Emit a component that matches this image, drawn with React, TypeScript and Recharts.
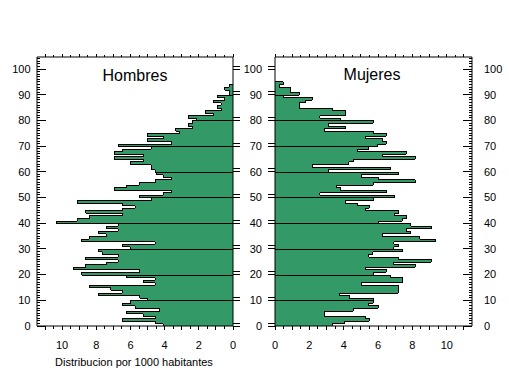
import React from 'react';
import { BarChart, Bar, XAxis, YAxis } from 'recharts';

// Distribution per 1000 inhabitants, by age (index = age in years)
const hombres = [
  4.08, 4.55, 6.47, 4.55, 5.25, 6.24, 4.30, 5.71, 6.47, 5.99,
  5.00, 5.46, 7.87, 6.47, 7.15, 8.40, 4.55, 5.25, 4.55, 6.24,
  8.86, 5.46, 9.33, 8.63, 7.42, 6.71, 8.63, 6.71, 7.64, 7.87,
  6.00, 6.47, 4.55, 8.86, 8.40, 7.41, 7.87, 6.71, 7.41, 6.71,
  10.34, 9.10, 8.40, 6.47, 8.63, 6.47, 5.71, 6.47, 9.10, 4.78,
  5.48, 4.08, 3.58, 6.94, 6.24, 5.48, 4.55, 3.58, 4.08, 4.45,
  4.55, 4.78, 4.78, 6.00, 5.25, 6.94, 5.25, 6.94, 6.47, 4.78,
  6.71, 3.58, 5.01, 4.08, 5.01, 3.11, 3.34, 2.37, 2.62, 2.37,
  2.14, 2.62, 1.17, 1.63, 0.70, 0.93, 0.70, 1.17, 0.47, 0.93,
  0.23, 0.23, 0.47, 0.23,
];

const mujeres = [
  3.32, 4.06, 5.50, 5.25, 2.86, 2.86, 4.57, 6.00, 5.46, 5.73,
  5.73, 4.33, 3.77, 7.17, 7.17, 7.17, 5.01, 7.41, 7.41, 6.72,
  5.71, 6.47, 5.25, 8.16, 6.92, 9.10, 7.17, 5.46, 5.70, 7.41,
  6.92, 7.19, 6.92, 9.37, 8.42, 6.24, 7.89, 7.64, 9.12, 7.89,
  6.00, 7.40, 7.66, 6.95, 7.20, 5.26, 5.50, 4.79, 4.09, 5.73,
  6.95, 2.62, 6.47, 3.80, 3.59, 5.73, 8.16, 6.00, 5.01, 7.19,
  3.09, 6.72, 2.16, 4.30, 4.57, 8.16, 6.24, 7.64, 4.78, 5.46,
  5.99, 6.47, 6.24, 5.26, 6.47, 5.73, 2.88, 4.09, 3.09, 5.73,
  3.79, 2.62, 4.09, 4.09, 3.32, 1.42, 1.42, 1.75, 2.17, 0.49,
  1.42, 0.93, 0.93, 0.25, 0.49,
];

const valueLabels = [0, 2, 4, 6, 8, 10];
const ageLabels = [0, 10, 20, 30, 40, 50, 60, 70, 80, 90, 100];

const Y_MAX = 104.7;
const X_MAX = 11.47;
const yearTicks = Array.from({ length: 105 }, (_, i) => i);
const halfTicks = Array.from({ length: 23 }, (_, i) => i * 0.5);

const FONT = '"Liberation Sans", Arial, Helvetica, sans-serif';
const GREEN = '#339966';

const maleData = hombres.map((v, i) => ({ age: i, mid: i + 0.5, value: v }));
const femaleData = mujeres.map((v, i) => ({ age: i, mid: i + 0.5, value: v }));

function makeShape(values: number[], side: 'left' | 'right') {
  return (props: any) => {
    const { x, y, width, height } = props;
    const i: number =
      props.payload && typeof props.payload.age === 'number' ? props.payload.age : props.index;
    const v = values[i];
    if (!v || !isFinite(x) || !isFinite(width) || !isFinite(y) || !isFinite(height)) return <g />;
    const xa = Math.min(x, x + width);
    const xb = Math.max(x, x + width);
    const top = Math.min(y, y + height);
    const bottom = Math.max(y, y + height);
    const base = side === 'left' ? xb : xa;
    const outer = side === 'left' ? xa : xb;
    const pxPerUnit = (xb - xa) / v;
    const dir = side === 'left' ? -1 : 1;
    const outerAt = (j: number) =>
      j >= 0 && j < values.length ? base + dir * values[j] * pxPerUnit : base;
    const prev = outerAt(i - 1);
    const isLast = i === values.length - 1;
    return (
      <g shapeRendering="crispEdges">
        <rect x={xa} y={top} width={xb - xa} height={bottom - top} fill={GREEN} />
        <line x1={outer} x2={outer} y1={top} y2={bottom} stroke="#000" />
        {i > 0 && <line x1={prev} x2={outer} y1={bottom} y2={bottom} stroke="#000" />}
        {i % 10 === 0 && i > 0 && (
          <line x1={base} x2={outer} y1={bottom} y2={bottom} stroke="#000" />
        )}
        {isLast && <line x1={outer} x2={base} y1={top} y2={top} stroke="#000" />}
      </g>
    );
  };
}

const txt = { fontSize: 11, fontFamily: FONT, fill: '#000' } as const;

// inner comb ticks on the outer vertical axes
const InnerYTick = (side: 'left' | 'right', showLabels: boolean) => (p: any) => {
  const { x, y, payload } = p;
  const v = payload.value;
  const major = v % 10 === 0;
  const len = major ? 9 : 3;
  const d = side === 'left' ? 1 : -1;
  return (
    <g>
      <line x1={x} x2={x + d * len} y1={y} y2={y} stroke="#000" shapeRendering="crispEdges" />
      {showLabels && major && (
        <text
          x={side === 'left' ? x - 6.5 : x + 12}
          y={y}
          dy="0.35em"
          textAnchor={side === 'left' ? 'end' : 'start'}
          {...txt}
        >
          {v}
        </text>
      )}
    </g>
  );
};

// "=" ticks on the central vertical axes
const MidYTick = (side: 'left' | 'right', showLabels: boolean) => (p: any) => {
  const { x, y, payload } = p;
  const v = payload.value;
  const d = side === 'left' ? -1 : 1;
  return (
    <g>
      <g shapeRendering="crispEdges">
        <line x1={x} x2={x + d * 7} y1={y} y2={y} stroke="#000" />
        <line x1={x} x2={x + d * 7} y1={y - 3} y2={y - 3} stroke="#000" />
      </g>
      {showLabels && (
        <text x={x - 13} y={y} dy="0.35em" textAnchor="end" {...txt}>
          {v}
        </text>
      )}
    </g>
  );
};

const BottomTick = (p: any) => {
  const { x, y, payload } = p;
  const v = payload.value;
  const isInt = Math.abs(v - Math.round(v)) < 1e-6;
  return (
    <g>
      <line x1={x} x2={x} y1={y} y2={y + (isInt ? 4 : 3)} stroke="#000" shapeRendering="crispEdges" />
      {valueLabels.includes(v) && (
        <text x={x} y={y + 22.5} textAnchor="middle" {...txt}>
          {v}
        </text>
      )}
    </g>
  );
};

const TopTick = (p: any) => {
  const { x, y, payload } = p;
  const v = payload.value;
  const isInt = Math.abs(v - Math.round(v)) < 1e-6;
  return (
    <line x1={x} x2={x} y1={y} y2={y - (isInt ? 3 : 2)} stroke="#000" shapeRendering="crispEdges" />
  );
};

const axisLine = { stroke: '#000', strokeWidth: 1 };

function Panel(props: {
  data: any[];
  values: number[];
  side: 'left' | 'right';
  mLeft: number;
  mRight: number;
  leftW: number;
  rightW: number;
}) {
  const { data, values, side, mLeft, mRight, leftW, rightW } = props;
  const isLeft = side === 'left';
  return (
    <BarChart
      width={509}
      height={376}
      data={data}
      layout="vertical"
      margin={{ top: 47, right: mRight, bottom: 0, left: mLeft }}
      barCategoryGap={0}
      barGap={0}
      style={{ overflow: 'visible' }}
    >
      <XAxis
        xAxisId="b"
        type="number"
        orientation="bottom"
        domain={[0, X_MAX]}
        allowDataOverflow
        reversed={isLeft}
        ticks={halfTicks}
        interval={0}
        height={50}
        tickSize={0}
        tickMargin={0}
        tickLine={false}
        axisLine={axisLine}
        tick={BottomTick}
      />
      <XAxis
        xAxisId="t"
        type="number"
        orientation="top"
        domain={[0, X_MAX]}
        allowDataOverflow
        reversed={isLeft}
        ticks={halfTicks}
        interval={0}
        height={10}
        tickSize={0}
        tickMargin={0}
        tickLine={false}
        axisLine={axisLine}
        tick={TopTick}
      />
      <YAxis
        yAxisId="l"
        type="number"
        dataKey="mid"
        orientation="left"
        domain={[0, Y_MAX]}
        allowDataOverflow
        reversed
        ticks={isLeft ? yearTicks : ageLabels}
        interval={0}
        width={leftW}
        tickSize={0}
        tickMargin={0}
        tickLine={false}
        axisLine={axisLine}
        tick={isLeft ? InnerYTick('left', true) : MidYTick('left', true)}
      />
      <YAxis
        yAxisId="r"
        type="number"
        dataKey="mid"
        orientation="right"
        domain={[0, Y_MAX]}
        allowDataOverflow
        reversed
        ticks={isLeft ? ageLabels : yearTicks}
        interval={0}
        width={rightW}
        tickSize={0}
        tickMargin={0}
        tickLine={false}
        axisLine={axisLine}
        tick={isLeft ? MidYTick('right', false) : InnerYTick('right', true)}
      />
      <Bar
        dataKey="value"
        xAxisId="b"
        yAxisId="l"
        isAnimationActive={false}
        shape={makeShape(values, side)}
      />
    </BarChart>
  );
}

export default function App() {
  return (
    <div
      style={{
        position: 'absolute',
        left: 0,
        top: 0,
        width: 509,
        height: 376,
        background: '#fff',
        overflow: 'hidden',
      }}
    >
      <div style={{ position: 'absolute', left: 0, top: 0 }}>
        <Panel data={maleData} values={hombres} side="left" mLeft={0} mRight={259} leftW={37} rightW={17} />
      </div>
      <div style={{ position: 'absolute', left: 0, top: 0 }}>
        <Panel data={femaleData} values={mujeres} side="right" mLeft={250} mRight={0} leftW={25} rightW={37} />
      </div>
      <svg
        width={509}
        height={376}
        style={{ position: 'absolute', left: 0, top: 0, pointerEvents: 'none' }}
      >
        <text x={135} y={81} textAnchor="middle" fontSize={16} fontFamily={FONT}>
          Hombres
        </text>
        <text x={372} y={80} textAnchor="middle" fontSize={16} fontFamily={FONT}>
          Mujeres
        </text>
        <text x={134} y={366} textAnchor="middle" fontSize={11} fontFamily={FONT}>
          Distribucion por 1000 habitantes
        </text>
      </svg>
    </div>
  );
}
